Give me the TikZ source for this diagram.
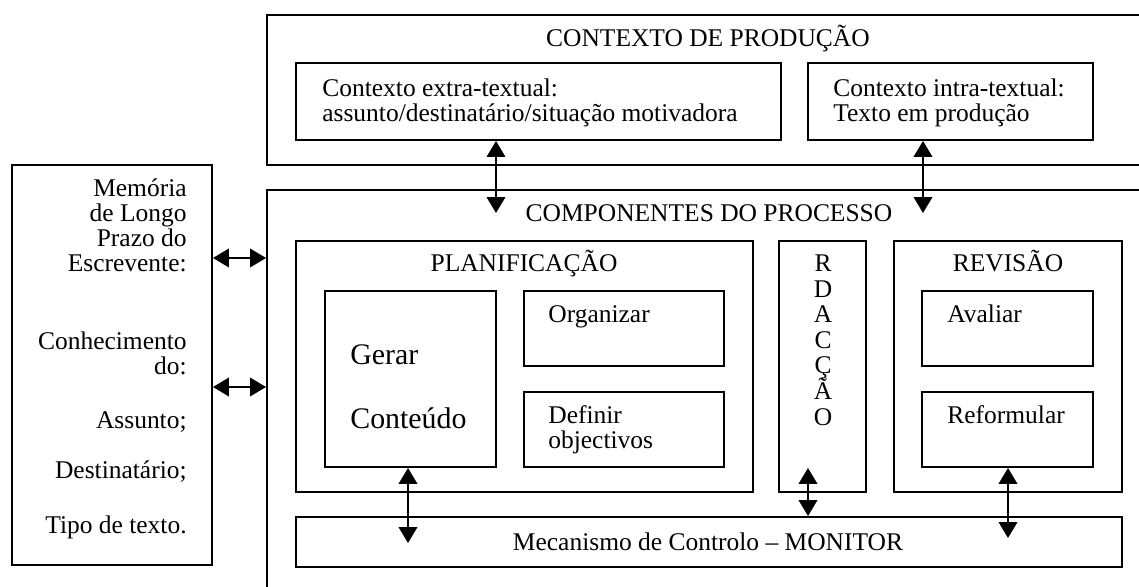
\documentclass[tikz,border=0pt]{standalone}
\usepackage{fontspec}
\setmainfont{Liberation Serif}
\usetikzlibrary{arrows.meta,positioning,fit}

\begin{document}
\begin{tikzpicture}[x=0.02cm, y=-0.02cm]
	\tikzstyle{Box}		= [draw, line width=1.1pt, inner sep=0pt]
	\tikzstyle{Txt}		= [inner sep=0pt, font=\fontsize{14.5}{14.5}\selectfont]
	\tikzstyle{Big}		= [inner sep=0pt, font=\fontsize{17}{17}\selectfont]
	\tikzstyle{Link}	= [line width=1pt, {Triangle[width=10.5pt,length=9pt]}-{Triangle[width=10.5pt,length=9pt]}]

	\useasboundingbox (0,0) rectangle (1139,587);
	\clip (0,0) rectangle (1139,587);

	\node (ctx) [Box, fit={(267,15) (1180,165)}] {};
	\node (ctxt) at (708,47) [Txt, anchor=base] {CONTEXTO DE PRODUÇÃO};
	\node (extra) [Box, fit={(296,63) (781,140)}] {};
	\node (extrat) at (322,97) [Txt, anchor=base west] {Contexto extra-textual:};
	\node (extrat2) at (322,122) [Txt, anchor=base west] {assunto/destinatário/situação motivadora};
	\node (intra) [Box, fit={(808,63) (1093,140)}] {};
	\node (intrat) at (833,97) [Txt, anchor=base west] {Contexto intra-textual:};
	\node (intrat2) at (833,122) [Txt, anchor=base west] {Texto em produção};

	\node (mem) [Box, fit={(12,165) (212,565)}] {};
	\foreach \t/\y [count=\i] in {Memória/197, de Longo/222, Prazo do/247, Escrevente:/272,
			Conhecimento/350, do:/375, Assunto;/428, Destinatário;/478, Tipo de texto./533}
		\node (memt\i) at (187,\y) [Txt, anchor=base east] {\t};

	\node (comp) [Box, fit={(267,190) (1180,640)}] {};
	\node (compt) at (709,222) [Txt, anchor=base] {COMPONENTES DO PROCESSO};

	\node (plan) [Box, fit={(296,241) (753,492)}] {};
	\node (plant) at (524,272) [Txt, anchor=base] {PLANIFICAÇÃO};
	\node (gerar) [Box, fit={(325,291) (496,467)}] {};
	\node (gerart) at (350,365) [Big, anchor=base west] {Gerar};
	\node (gerart2) at (350,428) [Big, anchor=base west] {Conteúdo};
	\node (org) [Box, fit={(524,291) (724,366)}] {};
	\node (orgt) at (548,323) [Txt, anchor=base west] {Organizar};
	\node (def) [Box, fit={(524,392) (724,467)}] {};
	\node (deft) at (548,423) [Txt, anchor=base west] {Definir};
	\node (deft2) at (548,448) [Txt, anchor=base west] {objectivos};

	\node (red) [Box, fit={(779,241) (866,492)}] {};
	\foreach \l [count=\i] in {R,D,A,C,Ç,Ã,O}
		\node (redt\i) at (823,246.5+25.5*\i) [Txt, anchor=base] {\l};

	\node (rev) [Box, fit={(894,241) (1122,492)}] {};
	\node (revt) at (1008,272) [Txt, anchor=base] {REVISÃO};
	\node (aval) [Box, fit={(922,291) (1093,366)}] {};
	\node (avalt) at (947,323) [Txt, anchor=base west] {Avaliar};
	\node (reform) [Box, fit={(922,392) (1093,467)}] {};
	\node (reformt) at (947,423) [Txt, anchor=base west] {Reformular};

	\node (mon) [Box, fit={(296,517) (1122,567)}] {};
	\node (mont) at (708,550) [Txt, anchor=base] {Mecanismo de Controlo – MONITOR};

	\coordinate (e1) at (496,213);
	\coordinate (i1) at (923,213);
	\coordinate (m1) at (240,258);
	\coordinate (m2) at (240,387);
	\coordinate (g1) at (408,543);
	\coordinate (r1) at (808,468);
	\coordinate (v1) at (1008,538);

	\draw [Link] (e1 |- extra.south) -- (e1);
	\draw [Link] (i1 |- intra.south) -- (i1);
	\draw [Link] (mem.east |- m1) -- (comp.west |- m1);
	\draw [Link] (mem.east |- m2) -- (comp.west |- m2);
	\draw [Link] (g1 |- gerar.south) -- (g1);
	\draw [Link] (r1) -- (r1 |- mon.north);
	\draw [Link] (v1 |- reform.south) -- (v1);
\end{tikzpicture}
\end{document}
